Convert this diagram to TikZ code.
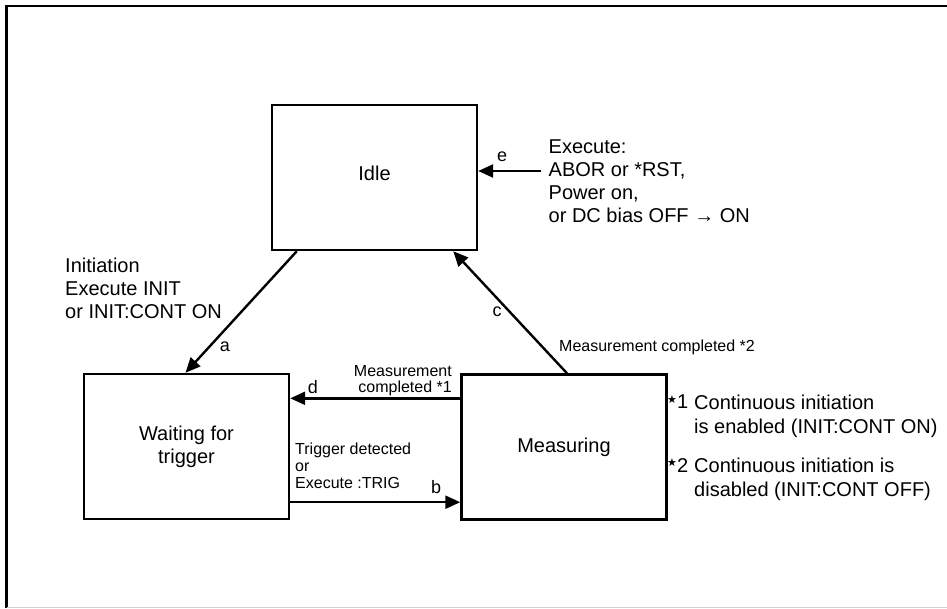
\documentclass[tikz,border=0pt]{standalone}
\usepackage{fontspec}
\setmainfont{Liberation Sans}
\newfontfamily\starfont{DejaVu Sans}
\usetikzlibrary{arrows.meta,calc}
\begin{document}
\begin{tikzpicture}[x=1pt,y=-1pt,
  box/.style={draw,line width=2.4pt,minimum width=205pt,minimum height=145pt,inner sep=0pt,
              font=\fontsize{20}{23}\selectfont,align=center},
  arr/.style={line width=2.4pt,-{Triangle[length=15pt,width=13pt]}},
  big/.style={font=\fontsize{20}{22.7}\selectfont,inner sep=0pt},
  small/.style={font=\fontsize{16}{16.7}\selectfont,inner sep=0pt},
  letter/.style={font=\fontsize{18}{18}\selectfont,inner sep=0pt},
  starmark/.style={font=\starfont\fontsize{11}{11}\selectfont,inner sep=0pt},
  note/.style={font=\fontsize{20}{23.5}\selectfont,inner sep=0pt,align=left,anchor=north west}]
\useasboundingbox (0,0) rectangle (947,609);
% frame
\draw[line width=2.2pt] (6.5,608) -- (6.5,6) -- (947,6);
\draw[gray!35,line width=1pt] (6.5,607.5) -- (947,607.5);
% states
\node[box] (idle) at (374.5,177.5) {};
\node[big] (tidle) at (374.5,173) {Idle};
\node[box] (wait) at (186.5,446.5) {Waiting for\\trigger};
\node[box] (meas) at (564,447) {Measuring};
% transitions
\draw[arr] ($(idle.south west)+(26,0)$) -- ($(wait.north)+(-1,0)$);
\draw[arr] ($(meas.north)+(3,0)$) -- ($(idle.south east)+(-25,0)$);
\coordinate (d0) at ($(meas.north west)+(0,25)$);
\draw[arr] (d0) -- (d0 -| wait.east);
\coordinate (b0) at ($(wait.south east)+(0,-18)$);
\draw[arr] (b0) -- (b0 -| meas.west);
\coordinate (e0) at (541,171);
\draw[arr] (e0) -- (e0 -| idle.east);
% letters
\node[letter] (la) at (225,347) {a};
\node[letter] (lb) at (436,487) {b};
\node[letter] (lc) at (497,312) {c};
\node[letter] (ld) at (313,387) {d};
\node[letter] (le) at (502,157) {e};
% labels
\node[big,align=left,anchor=north west] (tinit) at (65,258)
  {Initiation\\Execute INIT\\or INIT:CONT ON};
\node[big,align=left,anchor=north west] (texec) at (548.5,140)
  {Execute:\\ABOR or *RST,\\Power on,\\or DC bias OFF → ON};
\node[small,align=right,anchor=north east] (tmc1) at (452,365)
  {Measurement\\completed *1};
\node[small,align=left,anchor=north west] (ttrig) at (295,443)
  {Trigger detected\\or\\Execute :TRIG};
\node[small,anchor=north west] (tmc2) at (559,339.5) {Measurement completed *2};
% footnotes
\node[starmark] (s1) at (672,400) {★};
\node[big,anchor=north west] (k1) at (677,395) {1};
\node[note] (f1) at (694,395) {Continuous initiation\\is enabled (INIT:CONT ON)};
\node[starmark] (s2) at (672,463) {★};
\node[big,anchor=north west] (k2) at (677,458) {2};
\node[note] (f2) at (694,458) {Continuous initiation is\\disabled (INIT:CONT OFF)};
\end{tikzpicture}
\end{document}
